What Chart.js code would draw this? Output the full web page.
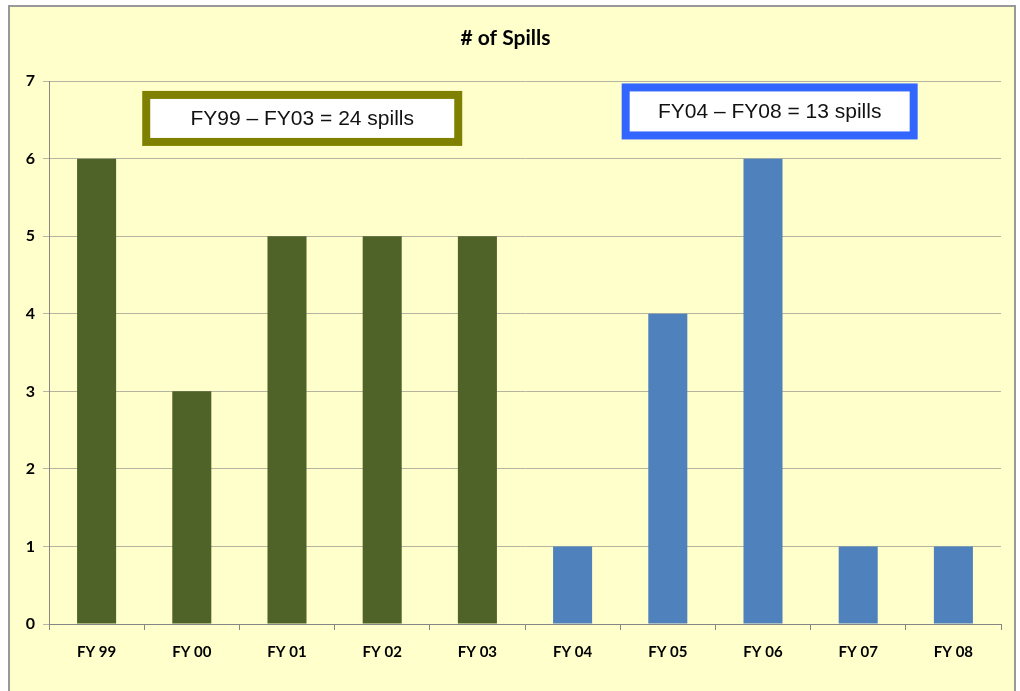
<!DOCTYPE html>
<html>
<head>
<meta charset="utf-8">
<script src="https://cdn.jsdelivr.net/npm/chart.js@4.4.1/dist/chart.umd.min.js"></script>
<style>
  html, body { margin: 0; padding: 0; background: #ffffff; overflow: hidden; }
  #frame {
    position: absolute; left: 8px; top: 5px;
    width: 1004px; height: 700px;
    border: 2px solid #999999;
    background: #FFFFCC;
  }
  #frame canvas { display: block; }
</style>
</head>
<body>
<div id="frame"><canvas id="spillChart" width="1004" height="684"></canvas></div>
<script>
// --- DATA ---
const fiscalYears = ["FY 99", "FY 00", "FY 01", "FY 02", "FY 03", "FY 04", "FY 05", "FY 06", "FY 07", "FY 08"];
const spills = [6, 3, 5, 5, 5, 1, 4, 6, 1, 1];
const yTicks = [0, 1, 2, 3, 4, 5, 6, 7];

// which period each year belongs to (0 = FY99-FY03, 1 = FY04-FY08)
const period = [0, 0, 0, 0, 0, 1, 1, 1, 1, 1];
const PERIOD_COLORS = ["#4F6228", "#4F81BD"];

// summary boxes (anchored on the category / value scales)
const notes = [
  { text: "FY99 \u2013 FY03 = 24 spills", xAt: 2.16, yAt: 6.52, w: 320, h: 55, color: "#808000" },
  { text: "FY04 \u2013 FY08 = 13 spills", xAt: 7.07, yAt: 6.61, w: 296, h: 56, color: "#3366FF" }
];

const TICK_FONT = { family: "Lato, 'Open Sans', sans-serif", size: 15, weight: "bold" };

// --- PLUGIN: the two outlined text boxes ---
const noteBoxes = {
  id: "noteBoxes",
  afterDatasetsDraw(chart) {
    const ctx = chart.ctx;
    const xs = chart.scales.x;
    const ys = chart.scales.y;
    notes.forEach(n => {
      const cx = xs.getPixelForValue(n.xAt);
      const cy = ys.getPixelForValue(n.yAt);
      const left = cx - n.w / 2;
      const top = cy - n.h / 2;
      ctx.save();
      ctx.fillStyle = n.color;
      ctx.fillRect(left, top, n.w, n.h);
      ctx.fillStyle = "#ffffff";
      ctx.fillRect(left + 8, top + 8, n.w - 16, n.h - 16);
      ctx.fillStyle = "#111111";
      ctx.font = "21px 'Liberation Sans', Arial, sans-serif";
      ctx.textAlign = "center";
      ctx.textBaseline = "middle";
      ctx.fillText(n.text, cx, cy + 1);
      ctx.restore();
    });
  }
};

const ctx = document.getElementById("spillChart").getContext("2d");
new Chart(ctx, {
  type: "bar",
  data: {
    labels: fiscalYears,
    datasets: [{
      label: "# of Spills",
      data: spills,
      backgroundColor: period.map(p => PERIOD_COLORS[p]),
      borderWidth: 0,
      barPercentage: 0.82,
      categoryPercentage: 0.5
    }]
  },
  options: {
    responsive: false,
    animation: false,
    layout: { padding: { left: 0, right: 13, top: 0, bottom: 0 } },
    plugins: {
      legend: { display: false },
      tooltip: { enabled: false },
      title: {
        display: true,
        text: "# of Spills",
        color: "#000000",
        font: { family: "Lato, 'Open Sans', sans-serif", size: 21, weight: "bold" },
        padding: { top: 19, bottom: 30 }
      }
    },
    scales: {
      x: {
        grid: { display: true, drawOnChartArea: false, drawTicks: true, tickLength: 6, color: "#868686", offset: true },
        border: { color: "#868686", width: 1 },
        ticks: { color: "#000000", padding: 13, font: TICK_FONT },
        afterFit(scale) { scale.height = 67; }
      },
      y: {
        min: 0,
        max: 7,
        afterBuildTicks(scale) { scale.ticks = yTicks.map(v => ({ value: v })); },
        grid: { color: "#b4b4a0", tickLength: 6, drawTicks: true },
        border: { color: "#868686", width: 1 },
        ticks: { color: "#000000", padding: 8, font: { family: "Lato, 'Open Sans', sans-serif", size: 16, weight: "bold" } },
        afterFit(scale) { scale.width = 39; }
      }
    }
  },
  plugins: [noteBoxes]
});
</script>
</body>
</html>
